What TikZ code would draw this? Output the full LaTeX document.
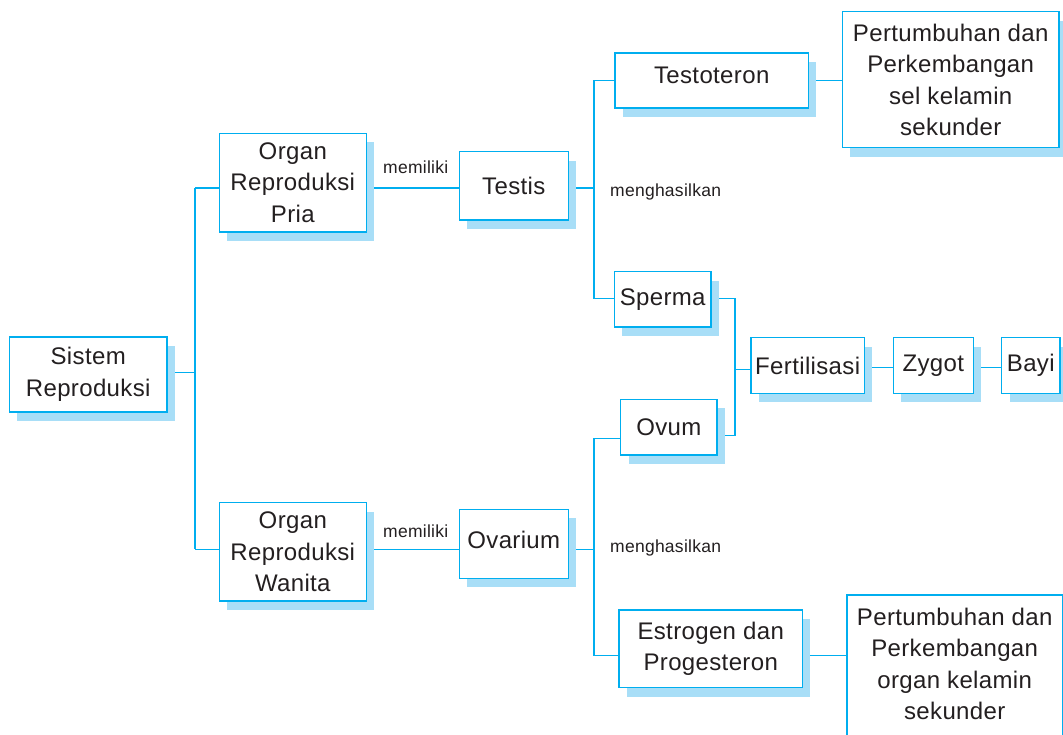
\documentclass[tikz,border=0pt]{standalone}
\usepackage{fontspec}
\setmainfont[LetterSpace=1.5]{Liberation Sans}
\usetikzlibrary{shadows}
\pgfdeclarelayer{bg}
\pgfdeclarelayer{conns}
\pgfsetlayers{bg,conns,main}
\definecolor{lineblue}{RGB}{0,174,239}
\definecolor{shadowblue}{RGB}{168,222,247}
\definecolor{textgray}{RGB}{35,31,32}
\begin{document}
\begin{tikzpicture}[x=1pt,y=-1pt,
  box/.style={rectangle, draw=lineblue, line width=1.6pt, fill=white, inner sep=0pt,
    align=center, text=textgray, font=\fontsize{24}{31.5}\selectfont,
    general shadow={fill=shadowblue, shadow xshift=8pt, shadow yshift=-9pt}},
  conn/.style={draw=lineblue, line width=1.4pt},
  lbl/.style={text=textgray, font=\fontsize{17.5}{21}\selectfont, inner sep=0pt, anchor=base west}]
\useasboundingbox (0,0) rectangle (1063,735);
\begin{pgfonlayer}{bg}
\fill[white] (0,0) rectangle (1063,735);
\end{pgfonlayer}
\clip (0,0) rectangle (1063,735);

\node[box, minimum width=157.7pt, minimum height=75pt] (sis) at (88.2,374.5) {Sistem\\Reproduksi};
\node[box, minimum width=147pt, minimum height=98.7pt] (pria) at (292.8,182.7) {Organ\\Reproduksi\\Pria};
\node[box, minimum width=147pt, minimum height=98.3pt] (wanita) at (292.8,551.8) {Organ\\Reproduksi\\Wanita};
\node[box, minimum width=109pt, minimum height=68.3pt] (testis) at (513.8,185.8) {Testis};
\node[box, minimum width=109pt, minimum height=69pt, text depth=8pt] (ovarium) at (513.8,543.8) {Ovarium};
\node[box, minimum width=193.3pt, minimum height=55pt, text depth=12pt] (testo) at (711.7,80.8) {Testoteron};
\node[box, minimum width=216.7pt, minimum height=136pt] (pert1) at (950.7,79.7) {Pertumbuhan dan\\Perkembangan\\sel kelamin\\sekunder};
\node[box, minimum width=96.7pt, minimum height=55.6pt] (sperma) at (662.7,299.5) {Sperma};
\node[box, minimum width=96.3pt, minimum height=55.7pt] (ovum) at (668.8,427.2) {Ovum};
\node[box, minimum width=113.3pt, minimum height=55.6pt] (fert) at (807.7,365.5) {Fertilisasi};
\node[box, minimum width=80pt, minimum height=55.6pt] (zygot) at (933.3,365.5) {Zygot};
\node[box, minimum width=58.3pt, minimum height=55.6pt] (bayi) at (1030.8,365.5) {Bayi};
\node[box, minimum width=183.3pt, minimum height=77.7pt] (estro) at (710.7,648.8) {Estrogen dan\\Progesteron};
\node[box, minimum width=216pt, minimum height=145pt, text depth=7pt] (pert2) at (954.7,667.5) {Pertumbuhan dan\\Perkembangan\\organ kelamin\\sekunder};

\node[lbl] (mem1) at (383,174) {memiliki};
\node[lbl] (mem2) at (383,537.7) {memiliki};
\node[lbl] (meng1) at (610,196.7) {menghasilkan};
\node[lbl] (meng2) at (610,552.3) {menghasilkan};

\coordinate (jP) at (195,188);
\coordinate (jS) at (195,372.3);
\coordinate (jW) at (195,549.3);
\coordinate (jTo) at (594,80.7);
\coordinate (jTs) at (594,188);
\coordinate (jSp) at (594,298.3);
\coordinate (jOv) at (594,438.3);
\coordinate (jOa) at (594,549.3);
\coordinate (jEs) at (594,655.5);
\coordinate (bS) at (735,298.3);
\coordinate (bO) at (735,435.5);
\coordinate (bF) at (735,369.5);
\coordinate (jF) at (880,367.7);

\begin{pgfonlayer}{conns}
\draw[conn] (sis.center |- jS) -- (jS);
\draw[conn] (jP) -- (jW);
\draw[conn] (jP) -- (jTs);
\draw[conn] (jW) -- (jOa);
\draw[conn] (pert1.center |- jTo) -- (jTo) -- (jSp) -- (sperma.center |- jSp);
\draw[conn] (sperma.center |- bS) -- (bS) -- (bO) -- (ovum.center |- bO);
\draw[conn] (bF) -- (fert.center |- bF);
\draw[conn] (fert.center |- jF) -- (bayi.center |- jF);
\draw[conn] (ovum.center |- jOv) -- (jOv) -- (jEs) -- (pert2.center |- jEs);
\end{pgfonlayer}
\end{tikzpicture}
\end{document}
